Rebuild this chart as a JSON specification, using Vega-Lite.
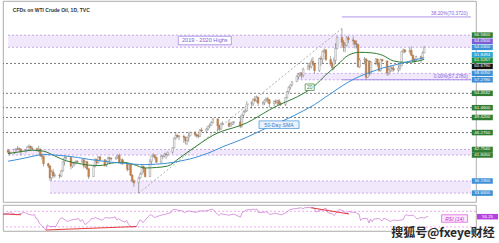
{
"$schema":"https://vega.github.io/schema/vega-lite/v6.json",
"padding":0,
"spacing":1,
"background":"white",
"config":{"view":{"stroke":"#999999","strokeWidth":0.8},"font":"Liberation Sans","text":{"font":"Liberation Sans"}},
"datasets":{
"ohlc":[
{"d":"2020-08-13","o":42.6,"h":42.9,"l":41.9,"c":42.2},
{"d":"2020-08-14","o":42.2,"h":42.5,"l":41.5,"c":42.0},
{"d":"2020-08-17","o":42.0,"h":42.9,"l":41.8,"c":42.8},
{"d":"2020-08-18","o":42.8,"h":43.0,"l":42.3,"c":42.9},
{"d":"2020-08-19","o":42.9,"h":43.5,"l":42.6,"c":43.0},
{"d":"2020-08-20","o":43.0,"h":43.1,"l":42.2,"c":42.8},
{"d":"2020-08-21","o":42.8,"h":42.9,"l":41.5,"c":42.3},
{"d":"2020-08-24","o":42.3,"h":42.8,"l":42.1,"c":42.6},
{"d":"2020-08-25","o":42.6,"h":43.5,"l":42.5,"c":43.3},
{"d":"2020-08-26","o":43.3,"h":43.8,"l":43.0,"c":43.4},
{"d":"2020-08-27","o":43.4,"h":43.6,"l":42.5,"c":43.0},
{"d":"2020-08-28","o":43.0,"h":43.4,"l":42.6,"c":42.9},
{"d":"2020-08-31","o":42.9,"h":43.1,"l":42.3,"c":42.6},
{"d":"2020-09-01","o":42.6,"h":43.5,"l":42.2,"c":42.8},
{"d":"2020-09-02","o":42.8,"h":43.0,"l":41.2,"c":41.5},
{"d":"2020-09-03","o":41.5,"h":41.9,"l":40.7,"c":41.3},
{"d":"2020-09-04","o":41.3,"h":41.5,"l":39.2,"c":39.8},
{"d":"2020-09-07","o":39.8,"h":39.9,"l":38.9,"c":39.3},
{"d":"2020-09-08","o":39.3,"h":39.5,"l":36.2,"c":36.8},
{"d":"2020-09-09","o":36.8,"h":38.5,"l":36.3,"c":38.1},
{"d":"2020-09-10","o":38.1,"h":38.7,"l":36.9,"c":37.3},
{"d":"2020-09-11","o":37.3,"h":37.8,"l":36.9,"c":37.4},
{"d":"2020-09-14","o":37.4,"h":37.7,"l":36.7,"c":37.2},
{"d":"2020-09-15","o":37.2,"h":38.5,"l":37.0,"c":38.3},
{"d":"2020-09-16","o":38.3,"h":40.3,"l":38.1,"c":40.2},
{"d":"2020-09-17","o":40.2,"h":41.4,"l":39.4,"c":41.0},
{"d":"2020-09-18","o":41.0,"h":41.4,"l":40.6,"c":41.1},
{"d":"2020-09-21","o":41.1,"h":41.2,"l":38.6,"c":39.3},
{"d":"2020-09-22","o":39.3,"h":40.0,"l":38.9,"c":39.8},
{"d":"2020-09-23","o":39.8,"h":40.2,"l":39.2,"c":39.9},
{"d":"2020-09-24","o":39.9,"h":40.5,"l":39.6,"c":40.3},
{"d":"2020-09-25","o":40.3,"h":40.5,"l":39.8,"c":40.2},
{"d":"2020-09-28","o":40.2,"h":40.8,"l":39.9,"c":40.6},
{"d":"2020-09-29","o":40.6,"h":40.7,"l":38.8,"c":39.3},
{"d":"2020-09-30","o":39.3,"h":40.3,"l":38.9,"c":40.2},
{"d":"2020-10-01","o":40.2,"h":40.4,"l":38.5,"c":38.7},
{"d":"2020-10-02","o":38.7,"h":38.9,"l":36.6,"c":37.1},
{"d":"2020-10-05","o":37.1,"h":39.5,"l":37.0,"c":39.2},
{"d":"2020-10-06","o":39.2,"h":40.9,"l":39.0,"c":40.7},
{"d":"2020-10-07","o":40.7,"h":40.8,"l":39.6,"c":40.0},
{"d":"2020-10-08","o":40.0,"h":41.4,"l":39.8,"c":41.2},
{"d":"2020-10-09","o":41.2,"h":41.4,"l":40.3,"c":40.6},
{"d":"2020-10-12","o":40.6,"h":40.7,"l":39.2,"c":39.4},
{"d":"2020-10-13","o":39.4,"h":40.5,"l":39.1,"c":40.2},
{"d":"2020-10-14","o":40.2,"h":41.3,"l":40.0,"c":41.0},
{"d":"2020-10-15","o":41.0,"h":41.2,"l":39.8,"c":40.9},
{"d":"2020-10-16","o":40.9,"h":41.1,"l":40.4,"c":40.8},
{"d":"2020-10-19","o":40.8,"h":41.4,"l":40.6,"c":41.1},
{"d":"2020-10-20","o":41.1,"h":41.7,"l":40.8,"c":41.5},
{"d":"2020-10-21","o":41.5,"h":41.9,"l":39.9,"c":40.0},
{"d":"2020-10-22","o":40.0,"h":40.8,"l":39.6,"c":40.6},
{"d":"2020-10-23","o":40.6,"h":40.9,"l":39.5,"c":39.9},
{"d":"2020-10-26","o":39.9,"h":40.0,"l":38.2,"c":38.6},
{"d":"2020-10-27","o":38.6,"h":39.7,"l":38.4,"c":39.6},
{"d":"2020-10-28","o":39.6,"h":39.7,"l":37.2,"c":37.4},
{"d":"2020-10-29","o":37.4,"h":37.6,"l":35.9,"c":36.2},
{"d":"2020-10-30","o":36.2,"h":36.5,"l":35.0,"c":35.8},
{"d":"2020-11-02","o":35.8,"h":37.1,"l":33.64,"c":36.8},
{"d":"2020-11-03","o":36.8,"h":38.0,"l":36.6,"c":37.7},
{"d":"2020-11-04","o":37.7,"h":39.7,"l":37.4,"c":39.2},
{"d":"2020-11-05","o":39.2,"h":39.4,"l":37.9,"c":38.8},
{"d":"2020-11-06","o":38.8,"h":38.9,"l":36.9,"c":37.1},
{"d":"2020-11-09","o":37.1,"h":40.8,"l":37.0,"c":40.3},
{"d":"2020-11-10","o":40.3,"h":41.5,"l":39.6,"c":41.4},
{"d":"2020-11-11","o":41.4,"h":42.0,"l":41.1,"c":41.5},
{"d":"2020-11-12","o":41.5,"h":41.8,"l":40.7,"c":41.1},
{"d":"2020-11-13","o":41.1,"h":41.2,"l":39.9,"c":40.1},
{"d":"2020-11-16","o":40.1,"h":41.6,"l":39.8,"c":41.3},
{"d":"2020-11-17","o":41.3,"h":41.6,"l":40.8,"c":41.4},
{"d":"2020-11-18","o":41.4,"h":42.0,"l":41.1,"c":41.8},
{"d":"2020-11-19","o":41.8,"h":42.1,"l":40.8,"c":41.7},
{"d":"2020-11-20","o":41.7,"h":42.3,"l":41.3,"c":42.2},
{"d":"2020-11-23","o":42.2,"h":43.2,"l":41.9,"c":43.1},
{"d":"2020-11-24","o":43.1,"h":45.3,"l":42.9,"c":45.1},
{"d":"2020-11-25","o":45.1,"h":46.3,"l":44.8,"c":45.7},
{"d":"2020-11-26","o":45.7,"h":45.9,"l":45.2,"c":45.4},
{"d":"2020-11-27","o":45.4,"h":45.8,"l":44.7,"c":45.5},
{"d":"2020-11-30","o":45.5,"h":45.8,"l":44.1,"c":45.3},
{"d":"2020-12-01","o":45.3,"h":45.4,"l":43.8,"c":44.6},
{"d":"2020-12-02","o":44.6,"h":45.4,"l":43.7,"c":45.3},
{"d":"2020-12-03","o":45.3,"h":46.3,"l":44.3,"c":45.6},
{"d":"2020-12-04","o":45.6,"h":46.5,"l":45.5,"c":46.3},
{"d":"2020-12-07","o":46.3,"h":46.6,"l":45.4,"c":45.8},
{"d":"2020-12-08","o":45.8,"h":46.0,"l":45.2,"c":45.6},
{"d":"2020-12-09","o":45.6,"h":46.1,"l":45.1,"c":45.5},
{"d":"2020-12-10","o":45.5,"h":47.0,"l":45.4,"c":46.8},
{"d":"2020-12-11","o":46.8,"h":47.3,"l":46.4,"c":46.6},
{"d":"2020-12-14","o":46.6,"h":47.3,"l":46.3,"c":47.0},
{"d":"2020-12-15","o":47.0,"h":47.7,"l":46.7,"c":47.6},
{"d":"2020-12-16","o":47.6,"h":48.2,"l":47.2,"c":47.8},
{"d":"2020-12-17","o":47.8,"h":48.6,"l":47.7,"c":48.4},
{"d":"2020-12-18","o":48.4,"h":49.3,"l":48.1,"c":49.1},
{"d":"2020-12-21","o":49.1,"h":49.3,"l":46.2,"c":47.7},
{"d":"2020-12-22","o":47.7,"h":47.9,"l":46.6,"c":47.0},
{"d":"2020-12-23","o":47.0,"h":48.3,"l":46.8,"c":48.1},
{"d":"2020-12-24","o":48.1,"h":48.6,"l":47.9,"c":48.2},
{"d":"2020-12-28","o":48.2,"h":48.9,"l":47.4,"c":47.6},
{"d":"2020-12-29","o":47.6,"h":48.4,"l":47.5,"c":48.0},
{"d":"2020-12-30","o":48.0,"h":48.6,"l":47.8,"c":48.4},
{"d":"2020-12-31","o":48.4,"h":48.6,"l":47.9,"c":48.5},
{"d":"2021-01-04","o":48.5,"h":49.8,"l":47.2,"c":47.6},
{"d":"2021-01-05","o":47.6,"h":50.2,"l":47.3,"c":49.9},
{"d":"2021-01-06","o":49.9,"h":50.9,"l":49.5,"c":50.6},
{"d":"2021-01-07","o":50.6,"h":51.3,"l":50.4,"c":50.8},
{"d":"2021-01-08","o":50.8,"h":52.8,"l":50.6,"c":52.2},
{"d":"2021-01-11","o":52.2,"h":52.7,"l":51.3,"c":52.3},
{"d":"2021-01-12","o":52.3,"h":53.4,"l":51.8,"c":53.2},
{"d":"2021-01-13","o":53.2,"h":53.9,"l":52.7,"c":52.9},
{"d":"2021-01-14","o":52.9,"h":54.0,"l":52.6,"c":53.6},
{"d":"2021-01-15","o":53.6,"h":53.7,"l":51.8,"c":52.4},
{"d":"2021-01-18","o":52.4,"h":52.8,"l":51.9,"c":52.5},
{"d":"2021-01-19","o":52.5,"h":53.2,"l":52.0,"c":53.0},
{"d":"2021-01-20","o":53.0,"h":53.6,"l":52.6,"c":53.3},
{"d":"2021-01-21","o":53.3,"h":53.7,"l":52.4,"c":53.1},
{"d":"2021-01-22","o":53.1,"h":53.2,"l":51.5,"c":52.3},
{"d":"2021-01-25","o":52.3,"h":53.0,"l":51.8,"c":52.8},
{"d":"2021-01-26","o":52.8,"h":53.2,"l":52.2,"c":52.6},
{"d":"2021-01-27","o":52.6,"h":53.1,"l":52.0,"c":52.9},
{"d":"2021-01-28","o":52.9,"h":53.3,"l":51.9,"c":52.3},
{"d":"2021-01-29","o":52.3,"h":52.7,"l":51.8,"c":52.1},
{"d":"2021-02-01","o":52.1,"h":53.7,"l":51.8,"c":53.6},
{"d":"2021-02-02","o":53.6,"h":55.0,"l":53.3,"c":54.8},
{"d":"2021-02-03","o":54.8,"h":55.9,"l":54.3,"c":55.7},
{"d":"2021-02-04","o":55.7,"h":56.3,"l":55.2,"c":56.2},
{"d":"2021-02-05","o":56.2,"h":57.0,"l":55.9,"c":56.9},
{"d":"2021-02-08","o":56.9,"h":58.2,"l":56.8,"c":58.0},
{"d":"2021-02-09","o":58.0,"h":58.6,"l":57.4,"c":58.4},
{"d":"2021-02-10","o":58.4,"h":58.9,"l":57.9,"c":58.7},
{"d":"2021-02-11","o":58.7,"h":58.8,"l":57.5,"c":58.2},
{"d":"2021-02-12","o":58.2,"h":59.8,"l":57.8,"c":59.5},
{"d":"2021-02-15","o":59.5,"h":60.8,"l":59.4,"c":60.1},
{"d":"2021-02-16","o":60.1,"h":60.9,"l":59.2,"c":60.0},
{"d":"2021-02-17","o":60.0,"h":61.7,"l":59.6,"c":61.1},
{"d":"2021-02-18","o":61.1,"h":62.0,"l":60.2,"c":60.5},
{"d":"2021-02-19","o":60.5,"h":60.6,"l":58.6,"c":59.2},
{"d":"2021-02-22","o":59.2,"h":61.9,"l":58.9,"c":61.7},
{"d":"2021-02-23","o":61.7,"h":62.3,"l":60.2,"c":61.6},
{"d":"2021-02-24","o":61.6,"h":63.4,"l":60.7,"c":63.2},
{"d":"2021-02-25","o":63.2,"h":63.8,"l":62.8,"c":63.5},
{"d":"2021-02-26","o":63.5,"h":63.6,"l":61.2,"c":61.5},
{"d":"2021-03-01","o":61.5,"h":62.2,"l":60.1,"c":60.6},
{"d":"2021-03-02","o":60.6,"h":61.0,"l":59.2,"c":59.8},
{"d":"2021-03-03","o":59.8,"h":61.9,"l":59.3,"c":61.3},
{"d":"2021-03-04","o":61.3,"h":64.9,"l":60.8,"c":63.8},
{"d":"2021-03-05","o":63.8,"h":66.4,"l":63.6,"c":66.1},
{"d":"2021-03-08","o":66.1,"h":67.98,"l":64.3,"c":65.1},
{"d":"2021-03-09","o":65.1,"h":65.6,"l":63.1,"c":64.0},
{"d":"2021-03-10","o":64.0,"h":64.9,"l":63.0,"c":64.4},
{"d":"2021-03-11","o":64.4,"h":66.4,"l":64.2,"c":66.0},
{"d":"2021-03-12","o":66.0,"h":66.4,"l":64.9,"c":65.6},
{"d":"2021-03-15","o":65.6,"h":66.3,"l":64.5,"c":65.4},
{"d":"2021-03-16","o":65.4,"h":65.5,"l":63.8,"c":64.8},
{"d":"2021-03-17","o":64.8,"h":65.5,"l":63.8,"c":64.6},
{"d":"2021-03-18","o":64.6,"h":64.8,"l":59.8,"c":60.0},
{"d":"2021-03-19","o":60.0,"h":61.8,"l":59.7,"c":61.4},
{"d":"2021-03-22","o":61.4,"h":62.0,"l":60.5,"c":61.6},
{"d":"2021-03-23","o":61.6,"h":61.8,"l":57.3,"c":57.8},
{"d":"2021-03-24","o":57.8,"h":61.4,"l":57.7,"c":61.2},
{"d":"2021-03-25","o":61.2,"h":61.3,"l":58.1,"c":58.6},
{"d":"2021-03-26","o":58.6,"h":61.1,"l":58.4,"c":61.0},
{"d":"2021-03-29","o":61.0,"h":61.8,"l":60.3,"c":61.6},
{"d":"2021-03-30","o":61.6,"h":61.7,"l":60.0,"c":60.6},
{"d":"2021-03-31","o":60.6,"h":61.0,"l":58.9,"c":59.2},
{"d":"2021-04-01","o":59.2,"h":61.7,"l":59.0,"c":61.5},
{"d":"2021-04-02","o":61.5,"h":61.6,"l":61.0,"c":61.2},
{"d":"2021-04-05","o":61.2,"h":61.3,"l":58.1,"c":58.7},
{"d":"2021-04-06","o":58.7,"h":59.8,"l":58.2,"c":59.3},
{"d":"2021-04-07","o":59.3,"h":60.2,"l":58.8,"c":59.8},
{"d":"2021-04-08","o":59.8,"h":60.1,"l":58.9,"c":59.6},
{"d":"2021-04-09","o":59.6,"h":60.2,"l":59.0,"c":59.3},
{"d":"2021-04-12","o":59.3,"h":60.5,"l":58.8,"c":59.7},
{"d":"2021-04-13","o":59.7,"h":60.6,"l":59.2,"c":60.2},
{"d":"2021-04-14","o":60.2,"h":63.3,"l":60.1,"c":63.2},
{"d":"2021-04-15","o":63.2,"h":63.8,"l":62.8,"c":63.5},
{"d":"2021-04-16","o":63.5,"h":63.7,"l":62.8,"c":63.1},
{"d":"2021-04-19","o":63.1,"h":64.0,"l":62.8,"c":63.4},
{"d":"2021-04-20","o":63.4,"h":64.2,"l":62.2,"c":62.4},
{"d":"2021-04-21","o":62.4,"h":62.5,"l":60.9,"c":61.4},
{"d":"2021-04-22","o":61.4,"h":61.7,"l":60.7,"c":61.3},
{"d":"2021-04-23","o":61.3,"h":62.3,"l":61.1,"c":62.1},
{"d":"2021-04-26","o":62.1,"h":62.3,"l":60.8,"c":61.9},
{"d":"2021-04-27","o":61.9,"h":63.2,"l":61.6,"c":62.9},
{"d":"2021-04-28","o":62.9,"h":64.3,"l":62.8,"c":64.03}
],
"sma":[
{"d":"2020-08-13","ma":"20","v":41.9},{"d":"2020-08-21","ma":"20","v":42.3},{"d":"2020-08-28","ma":"20","v":42.6},{"d":"2020-09-04","ma":"20","v":42.4},{"d":"2020-09-11","ma":"20","v":41.4},{"d":"2020-09-18","ma":"20","v":40.4},{"d":"2020-09-25","ma":"20","v":39.9},{"d":"2020-10-02","ma":"20","v":39.5},{"d":"2020-10-09","ma":"20","v":39.4},{"d":"2020-10-16","ma":"20","v":39.9},{"d":"2020-10-23","ma":"20","v":40.1},{"d":"2020-10-30","ma":"20","v":39.6},{"d":"2020-11-06","ma":"20","v":38.9},{"d":"2020-11-13","ma":"20","v":39.0},{"d":"2020-11-20","ma":"20","v":39.3},{"d":"2020-11-27","ma":"20","v":40.9},{"d":"2020-12-04","ma":"20","v":42.6},{"d":"2020-12-11","ma":"20","v":44.2},{"d":"2020-12-18","ma":"20","v":45.7},{"d":"2020-12-24","ma":"20","v":46.6},{"d":"2020-12-31","ma":"20","v":47.3},{"d":"2021-01-08","ma":"20","v":48.3},{"d":"2021-01-15","ma":"20","v":49.6},{"d":"2021-01-22","ma":"20","v":51.0},{"d":"2021-01-29","ma":"20","v":52.2},{"d":"2021-02-05","ma":"20","v":53.2},{"d":"2021-02-12","ma":"20","v":54.4},{"d":"2021-02-19","ma":"20","v":56.0},{"d":"2021-02-26","ma":"20","v":58.3},{"d":"2021-03-05","ma":"20","v":60.3},{"d":"2021-03-12","ma":"20","v":62.4},{"d":"2021-03-19","ma":"20","v":63.0},{"d":"2021-03-26","ma":"20","v":62.9},{"d":"2021-04-02","ma":"20","v":62.4},{"d":"2021-04-09","ma":"20","v":61.2},{"d":"2021-04-16","ma":"20","v":60.9},{"d":"2021-04-23","ma":"20","v":61.1},{"d":"2021-04-28","ma":"20","v":61.53},
{"d":"2020-08-13","ma":"50","v":40.3},{"d":"2020-08-21","ma":"50","v":40.8},{"d":"2020-08-28","ma":"50","v":41.3},{"d":"2020-09-04","ma":"50","v":41.7},{"d":"2020-09-11","ma":"50","v":41.6},{"d":"2020-09-18","ma":"50","v":41.4},{"d":"2020-09-25","ma":"50","v":41.1},{"d":"2020-10-02","ma":"50","v":40.7},{"d":"2020-10-09","ma":"50","v":40.4},{"d":"2020-10-16","ma":"50","v":40.1},{"d":"2020-10-23","ma":"50","v":39.9},{"d":"2020-10-30","ma":"50","v":39.7},{"d":"2020-11-06","ma":"50","v":39.6},{"d":"2020-11-13","ma":"50","v":39.7},{"d":"2020-11-20","ma":"50","v":39.9},{"d":"2020-11-27","ma":"50","v":40.3},{"d":"2020-12-04","ma":"50","v":40.8},{"d":"2020-12-11","ma":"50","v":41.5},{"d":"2020-12-18","ma":"50","v":42.4},{"d":"2020-12-24","ma":"50","v":43.3},{"d":"2020-12-31","ma":"50","v":44.2},{"d":"2021-01-08","ma":"50","v":45.3},{"d":"2021-01-15","ma":"50","v":46.4},{"d":"2021-01-22","ma":"50","v":47.5},{"d":"2021-01-29","ma":"50","v":48.5},{"d":"2021-02-05","ma":"50","v":49.6},{"d":"2021-02-12","ma":"50","v":50.8},{"d":"2021-02-19","ma":"50","v":52.1},{"d":"2021-02-26","ma":"50","v":53.7},{"d":"2021-03-05","ma":"50","v":55.3},{"d":"2021-03-12","ma":"50","v":56.8},{"d":"2021-03-19","ma":"50","v":58.0},{"d":"2021-03-26","ma":"50","v":58.9},{"d":"2021-04-02","ma":"50","v":59.7},{"d":"2021-04-09","ma":"50","v":60.3},{"d":"2021-04-16","ma":"50","v":60.9},{"d":"2021-04-23","ma":"50","v":61.5},{"d":"2021-04-28","ma":"50","v":61.85}
],
"rsi":[
{"d":"2020-08-13","r":62},{"d":"2020-08-17","r":66},{"d":"2020-08-19","r":65},{"d":"2020-08-21","r":61},{"d":"2020-08-25","r":66},{"d":"2020-08-26","r":67},{"d":"2020-08-28","r":63},{"d":"2020-08-31","r":60},{"d":"2020-09-01","r":62},{"d":"2020-09-02","r":52},{"d":"2020-09-03","r":50},{"d":"2020-09-04","r":40},{"d":"2020-09-08","r":22},{"d":"2020-09-09","r":35},{"d":"2020-09-10","r":31},{"d":"2020-09-14","r":31},{"d":"2020-09-16","r":47},{"d":"2020-09-17","r":52},{"d":"2020-09-18","r":53},{"d":"2020-09-21","r":44},{"d":"2020-09-23","r":47},{"d":"2020-09-25","r":49},{"d":"2020-09-28","r":51},{"d":"2020-09-29","r":44},{"d":"2020-09-30","r":49},{"d":"2020-10-01","r":42},{"d":"2020-10-02","r":36},{"d":"2020-10-05","r":47},{"d":"2020-10-06","r":53},{"d":"2020-10-07","r":50},{"d":"2020-10-08","r":55},{"d":"2020-10-09","r":52},{"d":"2020-10-12","r":47},{"d":"2020-10-13","r":50},{"d":"2020-10-14","r":54},{"d":"2020-10-16","r":53},{"d":"2020-10-19","r":54},{"d":"2020-10-20","r":56},{"d":"2020-10-21","r":48},{"d":"2020-10-22","r":51},{"d":"2020-10-23","r":48},{"d":"2020-10-26","r":42},{"d":"2020-10-27","r":47},{"d":"2020-10-28","r":38},{"d":"2020-10-29","r":33},{"d":"2020-10-30","r":30},{"d":"2020-11-02","r":31},{"d":"2020-11-03","r":40},{"d":"2020-11-04","r":48},{"d":"2020-11-05","r":46},{"d":"2020-11-06","r":41},{"d":"2020-11-09","r":56},{"d":"2020-11-10","r":60},{"d":"2020-11-11","r":61},{"d":"2020-11-13","r":54},{"d":"2020-11-16","r":59},{"d":"2020-11-18","r":61},{"d":"2020-11-20","r":63},{"d":"2020-11-23","r":67},{"d":"2020-11-24","r":74},{"d":"2020-11-25","r":75},{"d":"2020-11-27","r":73},{"d":"2020-11-30","r":71},{"d":"2020-12-01","r":66},{"d":"2020-12-02","r":69},{"d":"2020-12-04","r":71},{"d":"2020-12-08","r":67},{"d":"2020-12-10","r":71},{"d":"2020-12-14","r":71},{"d":"2020-12-16","r":73},{"d":"2020-12-18","r":76},{"d":"2020-12-21","r":63},{"d":"2020-12-22","r":59},{"d":"2020-12-23","r":64},{"d":"2020-12-28","r":60},{"d":"2020-12-31","r":63},{"d":"2021-01-04","r":55},{"d":"2021-01-05","r":66},{"d":"2021-01-06","r":69},{"d":"2021-01-08","r":74},{"d":"2021-01-11","r":74},{"d":"2021-01-12","r":76},{"d":"2021-01-13","r":74},{"d":"2021-01-14","r":76},{"d":"2021-01-15","r":67},{"d":"2021-01-19","r":68},{"d":"2021-01-20","r":69},{"d":"2021-01-22","r":62},{"d":"2021-01-25","r":65},{"d":"2021-01-28","r":62},{"d":"2021-01-29","r":61},{"d":"2021-02-01","r":67},{"d":"2021-02-02","r":71},{"d":"2021-02-03","r":74},{"d":"2021-02-05","r":76},{"d":"2021-02-08","r":78},{"d":"2021-02-10","r":79},{"d":"2021-02-11","r":76},{"d":"2021-02-12","r":79},{"d":"2021-02-15","r":80},{"d":"2021-02-16","r":79},{"d":"2021-02-17","r":80},{"d":"2021-02-18","r":76},{"d":"2021-02-19","r":68},{"d":"2021-02-22","r":74},{"d":"2021-02-23","r":73},{"d":"2021-02-24","r":77},{"d":"2021-02-25","r":78},{"d":"2021-02-26","r":67},{"d":"2021-03-01","r":63},{"d":"2021-03-02","r":59},{"d":"2021-03-03","r":65},{"d":"2021-03-04","r":71},{"d":"2021-03-05","r":75},{"d":"2021-03-08","r":70},{"d":"2021-03-09","r":65},{"d":"2021-03-10","r":66},{"d":"2021-03-11","r":70},{"d":"2021-03-12","r":68},{"d":"2021-03-15","r":67},{"d":"2021-03-16","r":64},{"d":"2021-03-17","r":63},{"d":"2021-03-18","r":46},{"d":"2021-03-19","r":51},{"d":"2021-03-22","r":52},{"d":"2021-03-23","r":40},{"d":"2021-03-24","r":50},{"d":"2021-03-25","r":43},{"d":"2021-03-26","r":50},{"d":"2021-03-29","r":52},{"d":"2021-03-30","r":49},{"d":"2021-03-31","r":45},{"d":"2021-04-01","r":52},{"d":"2021-04-02","r":51},{"d":"2021-04-05","r":44},{"d":"2021-04-06","r":46},{"d":"2021-04-07","r":48},{"d":"2021-04-08","r":47},{"d":"2021-04-09","r":46},{"d":"2021-04-12","r":48},{"d":"2021-04-13","r":50},{"d":"2021-04-14","r":60},{"d":"2021-04-15","r":61},{"d":"2021-04-16","r":59},{"d":"2021-04-19","r":60},{"d":"2021-04-20","r":56},{"d":"2021-04-21","r":51},{"d":"2021-04-22","r":51},{"d":"2021-04-23","r":54},{"d":"2021-04-26","r":53},{"d":"2021-04-27","r":56},{"d":"2021-04-28","r":56.25}
],
"rsidiv":[
{"g":1,"d":"2020-08-13","r":63},{"g":1,"d":"2020-08-24","r":61},
{"g":2,"d":"2020-09-08","r":22},{"g":2,"d":"2020-11-02","r":31},
{"g":3,"d":"2021-02-16","r":79},{"g":3,"d":"2021-03-11","r":63}
],
"rsiLevels":[{"v":70},{"v":30}],
"zones":[
{"s":"2020-08-13","e":"2021-05-27","lo":64.05,"hi":66.58},
{"s":"2021-02-08","e":"2021-05-27","lo":57.278,"hi":58.605},
{"s":"2020-08-13","e":"2021-05-27","lo":41.605,"hi":42.754},
{"s":"2020-09-08","e":"2021-05-27","lo":33.66,"hi":36.19}
],
"levels":[{"v":60.679},{"v":54.4532},{"v":51.46},{"v":49.42},{"v":46.275}],
"fibs":[{"s":"2021-03-08","v":70.372,"t":"38.20%(70.3720)"},{"s":"2021-03-08","v":57.278,"t":"0.00%(57.2780)"}],
"trend":[{"d":"2020-11-02","p":33.64},{"d":"2021-03-08","p":67.98}],
"tags":[
{"v":66.58,"k":"hi"},{"v":64.05,"k":"hi"},{"v":64.03,"k":"last"},{"v":61.8494,"k":"sma50"},{"v":61.5267,"k":"sma20"},{"v":60.679,"k":"level"},{"v":58.605,"k":"fib"},{"v":57.278,"k":"fib"},{"v":54.4532,"k":"level"},{"v":51.46,"k":"level"},{"v":49.42,"k":"level"},{"v":46.275,"k":"level"},{"v":42.754,"k":"mid"},{"v":41.605,"k":"mid"},{"v":36.19,"k":"low"},{"v":33.66,"k":"low"}
]
},
"vconcat":[
{
"width":473,"height":201,
"layer":[
{"data":{"name":"zones"},"mark":{"type":"rect","color":"#f1e8fc"},
 "encoding":{
  "x":{"field":"s","type":"temporal","scale":{"domain":[{"year":2020,"month":8,"date":13},{"year":2021,"month":5,"date":27}]},"axis":null},
  "x2":{"field":"e"},
  "y":{"field":"lo","type":"quantitative","scale":{"domain":[31.81,73.69],"nice":false,"zero":false},
       "axis":{"orient":"right","values":[32.5,35,37.5,40,42.5,45,47.5,50,52.5,55,57.5,60,62.5,65,67.5,70,72.5],"format":".4f","title":null,"grid":false,"domain":false,"tickSize":2,"tickColor":"#888888","labelFontSize":4.6,"labelColor":"#444444","labelPadding":1.5}},
  "y2":{"field":"hi"}}},
{"data":{"name":"zones"},"transform":[{"fold":["lo","hi"],"as":["k","v"]}],
 "mark":{"type":"rule","color":"#b999e6","strokeWidth":0.8,"strokeDash":[2,2]},
 "encoding":{"x":{"field":"s","type":"temporal","axis":null},"x2":{"field":"e"},"y":{"field":"v","type":"quantitative","axis":null}}},
{"data":{"name":"levels"},"mark":{"type":"rule","color":"#555555","strokeWidth":0.8,"strokeDash":[2,2]},
 "encoding":{"y":{"field":"v","type":"quantitative","axis":null}}},
{"data":{"name":"fibs"},"mark":{"type":"rule","color":"#9b7be3","strokeWidth":0.8},
 "encoding":{"x":{"field":"s","type":"temporal","axis":null},"x2":{"datum":{"year":2021,"month":5,"date":27}},"y":{"field":"v","type":"quantitative","axis":null}}},
{"data":{"name":"fibs"},"mark":{"type":"text","align":"right","baseline":"bottom","dy":-0.8,"fontSize":4.8,"color":"#8a63d9"},
 "encoding":{"x":{"datum":{"year":2021,"month":5,"date":25},"type":"temporal","axis":null},"y":{"field":"v","type":"quantitative","axis":null},"text":{"field":"t"}}},
{"data":{"name":"trend"},"mark":{"type":"line","color":"#9a9a9a","strokeWidth":0.8,"strokeDash":[2,2]},
 "encoding":{"x":{"field":"d","type":"temporal","axis":null},"y":{"field":"p","type":"quantitative","axis":null}}},
{"data":{"name":"ohlc"},"mark":{"type":"rule","color":"#6b6b6b","strokeWidth":0.6,"clip":true},
 "encoding":{"x":{"field":"d","type":"temporal","axis":null},"y":{"field":"l","type":"quantitative","axis":null},"y2":{"field":"h"}}},
{"data":{"name":"ohlc"},"mark":{"type":"bar","size":1.7,"strokeWidth":0.4,"clip":true},
 "encoding":{"x":{"field":"d","type":"temporal","axis":null},"y":{"field":"o","type":"quantitative","axis":null},"y2":{"field":"c"},
  "fill":{"condition":{"test":"datum.c >= datum.o","value":"#f5f5f5"},"value":"#cd8549"},
  "stroke":{"condition":{"test":"datum.c >= datum.o","value":"#7d7d7d"},"value":"#a9672f"}}},
{"data":{"name":"sma"},"mark":{"type":"line","strokeWidth":1,"interpolate":"monotone","clip":true},
 "encoding":{"x":{"field":"d","type":"temporal","axis":null},"y":{"field":"v","type":"quantitative","axis":null},
  "color":{"field":"ma","type":"nominal","scale":{"domain":["20","50"],"range":["#2e7d32","#3d8fd6"]},"legend":null}}},
{"data":{"values":[{}]},"mark":{"type":"point","shape":"M-1,-0.16H1V0.16H-1Z","size":2809,"filled":true,"fill":"#ffffff","stroke":"#9a7be0","strokeWidth":0.7,"opacity":1},
 "encoding":{"x":{"datum":{"year":2020,"month":12,"date":13},"type":"temporal","axis":null},"y":{"datum":65.46,"type":"quantitative","axis":null}}},
{"data":{"values":[{}]},"mark":{"type":"text","text":"2019 - 2020 Highs","fontSize":5.6,"color":"#7d5bd0","baseline":"middle","align":"center"},
 "encoding":{"x":{"datum":{"year":2020,"month":12,"date":13},"type":"temporal","axis":null},"y":{"datum":65.46,"type":"quantitative","axis":null}}},
{"data":{"values":[{}]},"mark":{"type":"point","shape":"M-1,-0.72H1V0.72H-1Z","size":81,"filled":true,"fill":"#ffffff","stroke":"#2e7d32","strokeWidth":0.7,"opacity":1},
 "encoding":{"x":{"datum":{"year":2021,"month":2,"date":16},"type":"temporal","axis":null},"y":{"datum":55.73,"type":"quantitative","axis":null}}},
{"data":{"values":[{}]},"mark":{"type":"text","text":"20","fontSize":5,"color":"#2e7d32","baseline":"middle","align":"center"},
 "encoding":{"x":{"datum":{"year":2021,"month":2,"date":16},"type":"temporal","axis":null},"y":{"datum":55.73,"type":"quantitative","axis":null}}},
{"data":{"values":[{}]},"mark":{"type":"point","shape":"M-1,-0.19H1V0.19H-1Z","size":1600,"filled":true,"fill":"#eaf3fc","stroke":"#3d8fd6","strokeWidth":0.7,"opacity":1},
 "encoding":{"x":{"datum":{"year":2021,"month":1,"date":28},"type":"temporal","axis":null},"y":{"datum":47.92,"type":"quantitative","axis":null}}},
{"data":{"values":[{}]},"mark":{"type":"text","text":"50-Day SMA","fontSize":5.2,"color":"#2f7fd0","baseline":"middle","align":"center"},
 "encoding":{"x":{"datum":{"year":2021,"month":1,"date":28},"type":"temporal","axis":null},"y":{"datum":47.92,"type":"quantitative","axis":null}}},
{"data":{"name":"tags"},"transform":[{"filter":"indexof([64.05,61.8494,61.5267,60.679], datum.v) < 0"}],
 "mark":{"type":"tick","orient":"horizontal","size":21,"thickness":5.5,"opacity":1},
 "encoding":{"x":{"datum":{"year":2021,"month":6,"date":3},"type":"temporal","axis":null},"y":{"field":"v","type":"quantitative","axis":null},
  "color":{"field":"k","type":"nominal","scale":{"domain":["hi","last","sma50","sma20","level","fib","mid","low"],"range":["#7b5dd6","#f39c24","#2aa5d8","#1e8e3e","#111111","#a283ea","#a136f0","#8c3be6"]},"legend":null}}},
{"data":{"name":"tags"},"transform":[{"filter":"indexof([64.05,61.8494,61.5267,60.679], datum.v) < 0"}],
 "mark":{"type":"text","fontSize":4.4,"color":"#ffffff","align":"center","baseline":"middle"},
 "encoding":{"x":{"datum":{"year":2021,"month":6,"date":3},"type":"temporal","axis":null},"y":{"field":"v","type":"quantitative","axis":null},"text":{"field":"v","type":"quantitative","format":".4f"}}},
{"data":{"name":"tags"},"transform":[{"filter":"datum.v == 64.05"}],
 "mark":{"type":"tick","orient":"horizontal","size":21,"thickness":5.5,"opacity":1,"yOffset":-6,"color":"#7b5dd6"},
 "encoding":{"x":{"datum":{"year":2021,"month":6,"date":3},"type":"temporal","axis":null},"y":{"field":"v","type":"quantitative","axis":null}}},
{"data":{"name":"tags"},"transform":[{"filter":"datum.v == 64.05"}],
 "mark":{"type":"text","fontSize":4.4,"color":"#ffffff","align":"center","baseline":"middle","yOffset":-6},
 "encoding":{"x":{"datum":{"year":2021,"month":6,"date":3},"type":"temporal","axis":null},"y":{"field":"v","type":"quantitative","axis":null},"text":{"field":"v","type":"quantitative","format":".4f"}}},
{"data":{"name":"tags"},"transform":[{"filter":"datum.v == 61.8494"}],
 "mark":{"type":"tick","orient":"horizontal","size":21,"thickness":5.5,"opacity":1,"yOffset":-3,"color":"#2aa5d8"},
 "encoding":{"x":{"datum":{"year":2021,"month":6,"date":3},"type":"temporal","axis":null},"y":{"field":"v","type":"quantitative","axis":null}}},
{"data":{"name":"tags"},"transform":[{"filter":"datum.v == 61.8494"}],
 "mark":{"type":"text","fontSize":4.4,"color":"#ffffff","align":"center","baseline":"middle","yOffset":-3},
 "encoding":{"x":{"datum":{"year":2021,"month":6,"date":3},"type":"temporal","axis":null},"y":{"field":"v","type":"quantitative","axis":null},"text":{"field":"v","type":"quantitative","format":".4f"}}},
{"data":{"name":"tags"},"transform":[{"filter":"datum.v == 61.5267"}],
 "mark":{"type":"tick","orient":"horizontal","size":21,"thickness":5.5,"opacity":1,"yOffset":1,"color":"#1e8e3e"},
 "encoding":{"x":{"datum":{"year":2021,"month":6,"date":3},"type":"temporal","axis":null},"y":{"field":"v","type":"quantitative","axis":null}}},
{"data":{"name":"tags"},"transform":[{"filter":"datum.v == 61.5267"}],
 "mark":{"type":"text","fontSize":4.4,"color":"#ffffff","align":"center","baseline":"middle","yOffset":1},
 "encoding":{"x":{"datum":{"year":2021,"month":6,"date":3},"type":"temporal","axis":null},"y":{"field":"v","type":"quantitative","axis":null},"text":{"field":"v","type":"quantitative","format":".4f"}}},
{"data":{"name":"tags"},"transform":[{"filter":"datum.v == 60.679"}],
 "mark":{"type":"tick","orient":"horizontal","size":21,"thickness":5.5,"opacity":1,"yOffset":3,"color":"#111111"},
 "encoding":{"x":{"datum":{"year":2021,"month":6,"date":3},"type":"temporal","axis":null},"y":{"field":"v","type":"quantitative","axis":null}}},
{"data":{"name":"tags"},"transform":[{"filter":"datum.v == 60.679"}],
 "mark":{"type":"text","fontSize":4.4,"color":"#ffffff","align":"center","baseline":"middle","yOffset":3},
 "encoding":{"x":{"datum":{"year":2021,"month":6,"date":3},"type":"temporal","axis":null},"y":{"field":"v","type":"quantitative","axis":null},"text":{"field":"v","type":"quantitative","format":".4f"}}},
{"data":{"values":[{}]},"mark":{"type":"text","text":"CFDs on WTI Crude Oil, 1D, TVC","fontSize":5,"fontWeight":"bold","color":"#333333","align":"left","baseline":"middle"},
 "encoding":{"x":{"datum":{"year":2020,"month":8,"date":16},"type":"temporal","axis":null},"y":{"datum":71.81,"type":"quantitative","axis":null}}}
]
},
{
"width":473,"height":26,
"layer":[
{"data":{"name":"rsiLevels"},"mark":{"type":"rule","color":"#e796e7","strokeWidth":0.8,"strokeDash":[2,2]},
 "encoding":{"y":{"field":"v","type":"quantitative","axis":null}}},
{"data":{"name":"rsi"},"mark":{"type":"line","color":"#cf82d8","strokeWidth":0.8},
 "encoding":{
  "x":{"field":"d","type":"temporal","scale":{"domain":[{"year":2020,"month":8,"date":13},{"year":2021,"month":5,"date":27}]},
       "axis":{"orient":"bottom","title":null,"grid":false,"domain":false,"tickCount":{"interval":"month","step":1},"labelExpr":"month(datum.value) == 0 ? timeFormat(datum.value, '%Y') : timeFormat(datum.value, '%b')","labelFontSize":4.6,"labelColor":"#444444","tickSize":2,"tickColor":"#888888","labelPadding":1}},
  "y":{"field":"r","type":"quantitative","scale":{"domain":[19.5,86.2],"nice":false,"zero":false},
       "axis":{"orient":"right","values":[40,80],"format":".2f","title":null,"grid":false,"domain":false,"tickSize":2,"tickColor":"#888888","labelFontSize":4.6,"labelColor":"#444444","labelPadding":1.5}}}},
{"data":{"name":"rsidiv"},"mark":{"type":"line","color":"#e23b3b","strokeWidth":1.1},
 "encoding":{"x":{"field":"d","type":"temporal","axis":null},"y":{"field":"r","type":"quantitative","axis":null},"detail":{"field":"g"}}},
{"data":{"values":[{}]},"mark":{"type":"point","shape":"M-1,-0.29H1V0.29H-1Z","size":676,"filled":true,"fill":"#fbe6fb","stroke":"#d63ad6","strokeWidth":0.6,"opacity":1},
 "encoding":{"x":{"datum":{"year":2021,"month":5,"date":14},"type":"temporal","axis":null},"y":{"datum":51.5,"type":"quantitative","axis":null}}},
{"data":{"values":[{}]},"mark":{"type":"text","text":"RSI (14)","fontSize":5,"fontStyle":"italic","color":"#c830c8","align":"center","baseline":"middle"},
 "encoding":{"x":{"datum":{"year":2021,"month":5,"date":14},"type":"temporal","axis":null},"y":{"datum":51.5,"type":"quantitative","axis":null}}},
{"data":{"values":[{"v":56.25}]},"mark":{"type":"tick","orient":"horizontal","size":21,"thickness":5.5,"opacity":1,"color":"#b83fe0"},
 "encoding":{"x":{"datum":{"year":2021,"month":6,"date":3},"type":"temporal","axis":null},"y":{"field":"v","type":"quantitative","axis":null}}},
{"data":{"values":[{"v":56.25}]},"mark":{"type":"text","fontSize":4.4,"color":"#ffffff","align":"center","baseline":"middle"},
 "encoding":{"x":{"datum":{"year":2021,"month":6,"date":3},"type":"temporal","axis":null},"y":{"field":"v","type":"quantitative","axis":null},"text":{"field":"v","type":"quantitative","format":".2f"}}},
{"data":{"values":[{}]},"mark":{"type":"text","text":"搜狐号@fxeye财经","font":"Noto Sans CJK SC","fontSize":12,"fontWeight":"bold","color":"#2a2a2a","align":"center","baseline":"middle"},
 "encoding":{"x":{"datum":{"year":2021,"month":5,"date":7},"type":"temporal","axis":null},"y":{"datum":14.4,"type":"quantitative","axis":null}}}
]
}
]
}
